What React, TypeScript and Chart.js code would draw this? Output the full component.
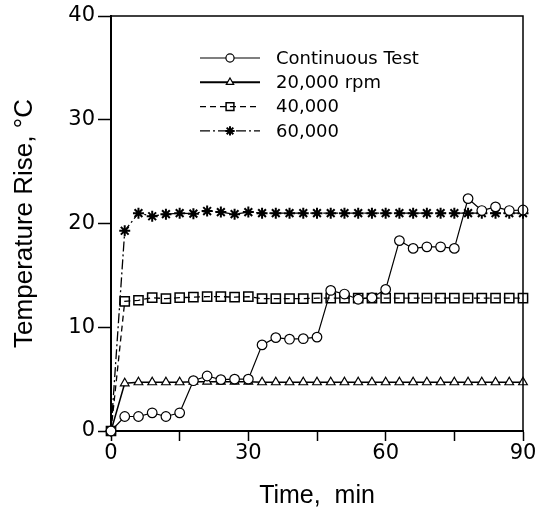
import React, { useEffect, useRef } from 'react';
import { Chart, registerables } from 'chart.js';
import { drawPoint } from 'chart.js/helpers';

Chart.register(...registerables);

// ---- data ----
const times = [0, 3, 6, 9, 12, 15, 18, 21, 24, 27, 30, 33, 36, 39, 42, 45, 48, 51, 54, 57, 60, 63, 66, 69, 72, 75, 78, 81, 84, 87, 90];
const continuousTest = [0, 1.4, 1.4, 1.75, 1.4, 1.75, 4.85, 5.3, 4.95, 5.0, 5.0, 8.3, 9.0, 8.85, 8.9, 9.05, 13.55, 13.2, 12.7, 12.85, 13.65, 18.35, 17.6, 17.75, 17.75, 17.6, 22.4, 21.25, 21.6, 21.25, 21.3];
const rpm20000 = [0, 4.6, 4.7, 4.7, 4.7, 4.7, 4.75, 4.75, 4.75, 4.75, 4.75, 4.7, 4.7, 4.7, 4.7, 4.7, 4.7, 4.7, 4.7, 4.7, 4.7, 4.7, 4.7, 4.7, 4.7, 4.7, 4.7, 4.7, 4.7, 4.7, 4.7];
const rpm40000 = [0, 12.5, 12.6, 12.85, 12.75, 12.85, 12.9, 12.95, 12.95, 12.9, 12.95, 12.75, 12.75, 12.75, 12.75, 12.8, 12.8, 12.8, 12.8, 12.8, 12.8, 12.8, 12.8, 12.8, 12.8, 12.8, 12.8, 12.8, 12.8, 12.8, 12.8];
const rpm60000 = [0, 19.3, 21.0, 20.7, 20.9, 21.0, 20.95, 21.2, 21.1, 20.9, 21.1, 21.0, 21.0, 21.0, 21.0, 21.0, 21.0, 21.0, 21.0, 21.0, 21.0, 21.0, 21.0, 21.0, 21.0, 21.0, 21.0, 21.0, 21.0, 21.0, 21.0];
const seriesLabels = ['Continuous Test', '20,000 rpm', '40,000', '60,000'];
const xLabeledTicks = [0, 30, 60, 90];
const xTitle = 'Time,  min';
const yTitle = 'Temperature Rise, °C';

const FONT = "'DejaVu Sans', sans-serif";
const TITLE_FONT = "'Liberation Sans', Arial, sans-serif";

const toPoints = (vals: number[]) => times.map((t, i) => ({ x: t, y: vals[i] }));

const framePlugin = {
  id: 'frame',
  afterDraw(chart: any) {
    const { ctx, chartArea } = chart;
    ctx.save();
    ctx.strokeStyle = '#000';
    ctx.lineWidth = 1.5;
    ctx.setLineDash([]);
    ctx.beginPath();
    ctx.moveTo(chartArea.left, chartArea.top);
    ctx.lineTo(chartArea.right, chartArea.top);
    ctx.lineTo(chartArea.right, chartArea.bottom);
    ctx.stroke();
    ctx.restore();
  },
};

const legendPlugin = {
  id: 'insideLegend',
  afterDraw(chart: any) {
    const { ctx } = chart;
    ctx.save();
    chart.data.datasets.forEach((ds: any, i: number) => {
      const y = 58 + i * 24.3;
      ctx.strokeStyle = '#000';
      ctx.lineWidth = i === 1 ? 2 : ds.borderWidth;
      ctx.setLineDash(ds.borderDash || []);
      ctx.beginPath();
      ctx.moveTo(200, y);
      ctx.lineTo(260, y);
      ctx.stroke();
      ctx.setLineDash([]);
      ctx.fillStyle = ds.pointBackgroundColor;
      ctx.strokeStyle = '#000';
      ctx.lineWidth = ds.pointBorderWidth;
      drawPoint(ctx, { pointStyle: ds.pointStyle, radius: ds.pointRadius * 0.85, borderWidth: ds.pointBorderWidth, rotation: 0 } as any, 230, y);
      ctx.fillStyle = '#000';
      ctx.font = `18px ${FONT}`;
      ctx.textBaseline = 'middle';
      ctx.textAlign = 'left';
      ctx.fillText(ds.label, 276, y + 1);
    });
    ctx.restore();
  },
};

export default function App() {
  const ref = useRef<HTMLCanvasElement | null>(null);
  useEffect(() => {
    document.body.style.margin = '0';
    const canvas = ref.current;
    if (!canvas) return;
    const common = {
      borderColor: '#000',
      pointBorderColor: '#000',
      tension: 0,
      clip: 10,
    };
    const chart = new Chart(canvas, {
      type: 'line',
      data: {
        datasets: [
          { ...common, label: seriesLabels[0], data: toPoints(continuousTest), borderWidth: 1.2, pointStyle: 'circle', pointRadius: 4.8, pointBorderWidth: 1.2, pointBackgroundColor: '#fff' },
          { ...common, label: seriesLabels[1], data: toPoints(rpm20000), borderWidth: 1.5, pointStyle: 'triangle', pointRadius: 5, pointBorderWidth: 1.2, pointBackgroundColor: '#fff' },
          { ...common, label: seriesLabels[2], data: toPoints(rpm40000), borderWidth: 1.3, borderDash: [6, 4], pointStyle: 'rect', pointRadius: 6.5, pointBorderWidth: 1.5, pointBackgroundColor: 'rgba(255,255,255,0)' },
          { ...common, label: seriesLabels[3], data: toPoints(rpm60000), borderWidth: 1.3, borderDash: [10, 3, 2, 3], pointStyle: 'star', pointRadius: 5.5, pointBorderWidth: 2, pointBackgroundColor: '#000' },
        ] as any,
      },
      options: {
        responsive: false,
        animation: false,
        devicePixelRatio: 1,
        layout: { padding: { left: 0, top: 16, right: 26, bottom: 0 } },
        plugins: { legend: { display: false }, tooltip: { enabled: false } },
        scales: {
          x: {
            type: 'linear',
            min: 0,
            max: 90,
            afterFit: (s: any) => { s.height = 80; },
            ticks: {
              stepSize: 15,
              autoSkip: false,
              maxRotation: 0,
              padding: 0,
              color: '#000',
              font: { family: FONT, size: 21 },
              callback: (v: any) => (xLabeledTicks.includes(Number(v)) ? String(v) : ''),
            },
            grid: { drawOnChartArea: false, drawTicks: true, tickLength: 10, tickColor: '#000', tickWidth: 1.5 },
            border: { color: '#000', width: 2 },
            title: { display: true, text: xTitle, color: '#000', font: { family: TITLE_FONT, size: 25 }, padding: { top: 0, bottom: 0 } },
          },
          y: {
            type: 'linear',
            min: 0,
            max: 40,
            afterFit: (s: any) => { s.width = 111; },
            ticks: { stepSize: 10, padding: 3, color: '#000', font: { family: FONT, size: 21 } },
            grid: { drawOnChartArea: false, drawTicks: true, tickLength: 13, tickColor: '#000', tickWidth: 1.5 },
            border: { color: '#000', width: 2 },
            title: { display: true, text: yTitle, color: '#000', font: { family: TITLE_FONT, size: 26 }, padding: { top: 9, bottom: 0 } },
          },
        },
      } as any,
      plugins: [framePlugin, legendPlugin],
    });
    return () => chart.destroy();
  }, []);
  return (
    <div style={{ width: 549, height: 511 }}>
      <canvas ref={ref} width={549} height={511} style={{ display: 'block', width: 549, height: 511 }} />
    </div>
  );
}
